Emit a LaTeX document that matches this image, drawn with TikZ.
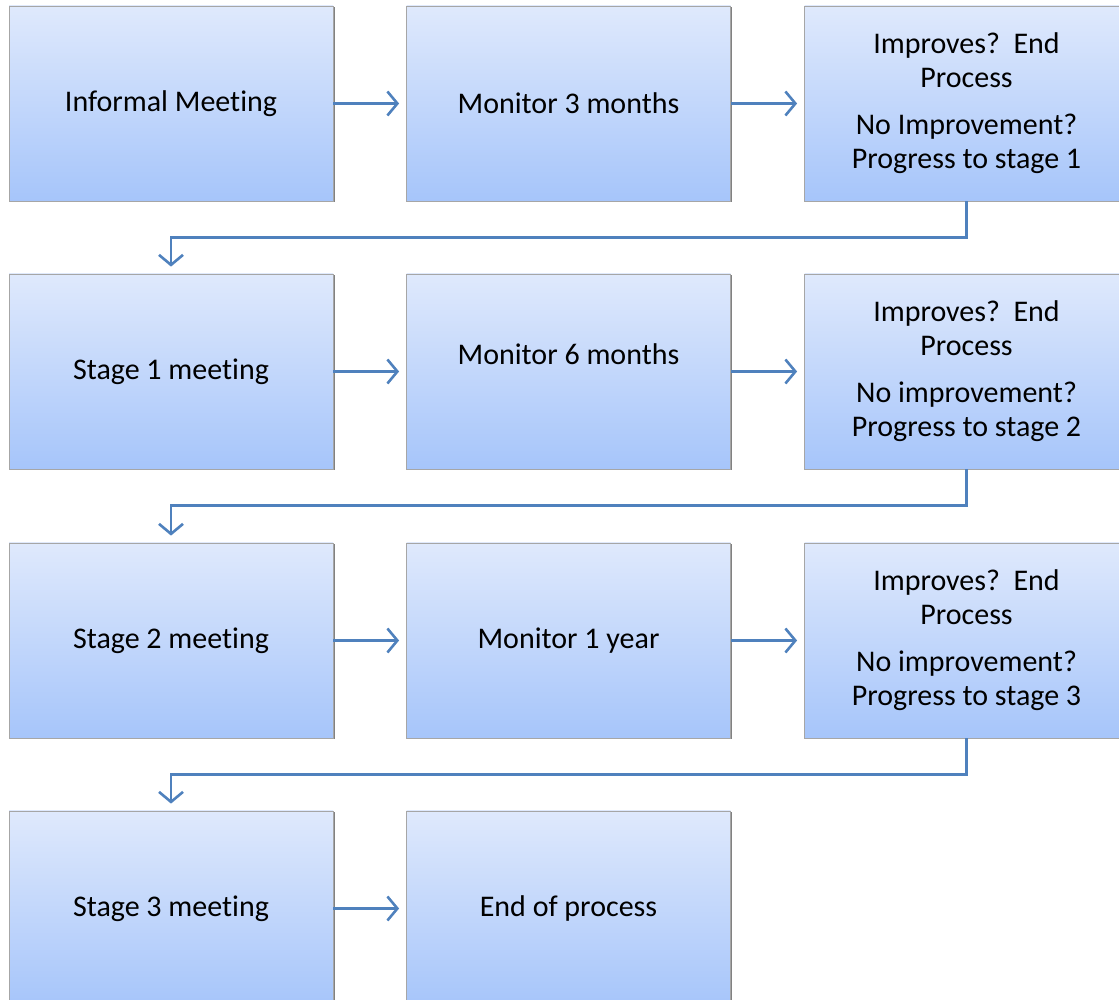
\documentclass[tikz,border=0pt]{standalone}
\usepackage{fontspec}
\setmainfont[Ligatures=NoCommon]{Carlito}
\usepackage{xcolor}
\usetikzlibrary{arrows.meta, shadows}
\definecolor{flowline}{RGB}{79,129,189}
\definecolor{boxtop}{RGB}{223,233,252}
\definecolor{boxbottom}{RGB}{166,197,250}
\tikzset{
    stagebox/.style={rectangle, minimum width=324pt, minimum height=195pt, inner sep=0pt,
        top color=boxtop, bottom color=boxbottom, draw=black!35, line width=0.8pt,
        drop shadow={shadow xshift=1.5pt, shadow yshift=-1.5pt, opacity=0.7, fill=black!70},
        align=center, font=\fontsize{30}{34}\selectfont},
    flow/.style={draw=flowline, line width=2.6pt, shorten >=7pt,
        -{Straight Barb[length=10pt, width=24pt, line width=2.6pt]}}
}

\begin{document}
\begin{tikzpicture}[x=1pt, y=1pt]

            \useasboundingbox (0, 0) rectangle (1119, 1000);
            \clip (0, 0) rectangle (1119, 1000);

            % row 1
            \node[stagebox] (informal) at (171, 896.5) {Informal Meeting};
            \node[stagebox] (mon3) at (568.5, 896.5) {Monitor 3 months};
            \node[stagebox] (check1) at (966.5, 896.5)
                {Improves?~~End\\Process\\[13pt]No Improvement?\\Progress to stage 1};

            % row 2
            \node[stagebox] (stage1) at (171, 628.5) {Stage 1 meeting};
            \node[stagebox] (mon6) at (568.5, 628.5) {Monitor 6 months\\ \mbox{}};
            \node[stagebox] (check2) at (966.5, 628.5)
                {Improves?~~End\\Process\\[13pt]No improvement?\\Progress to stage 2};

            % row 3
            \node[stagebox] (stage2) at (171, 359.5) {Stage 2 meeting};
            \node[stagebox] (mon12) at (568.5, 359.5) {Monitor 1 year};
            \node[stagebox] (check3) at (966.5, 359.5)
                {Improves?~~End\\Process\\[13pt]No improvement?\\Progress to stage 3};

            % row 4
            \node[stagebox] (stage3) at (171, 91.5) {Stage 3 meeting};
            \node[stagebox] (endproc) at (568.5, 91.5) {End of process};

            % arrows along the rows
            \draw[flow] (informal) -- (mon3);
            \draw[flow] (mon3) -- (check1);
            \draw[flow] (stage1) -- (mon6.west |- stage1);
            \draw[flow] (mon6.east |- stage1) -- (check2);
            \draw[flow] (stage2) -- (mon12);
            \draw[flow] (mon12) -- (check3);
            \draw[flow] (stage3) -- (endproc);

            % arrows down to the next row
            \draw[flow] (check1.south) -- ++(0, -36) -| (stage1.north);
            \draw[flow] (check2.south) -- ++(0, -36) -| (stage2.north);
            \draw[flow] (check3.south) -- ++(0, -36) -| (stage3.north);
        \end{tikzpicture}
\end{document}
